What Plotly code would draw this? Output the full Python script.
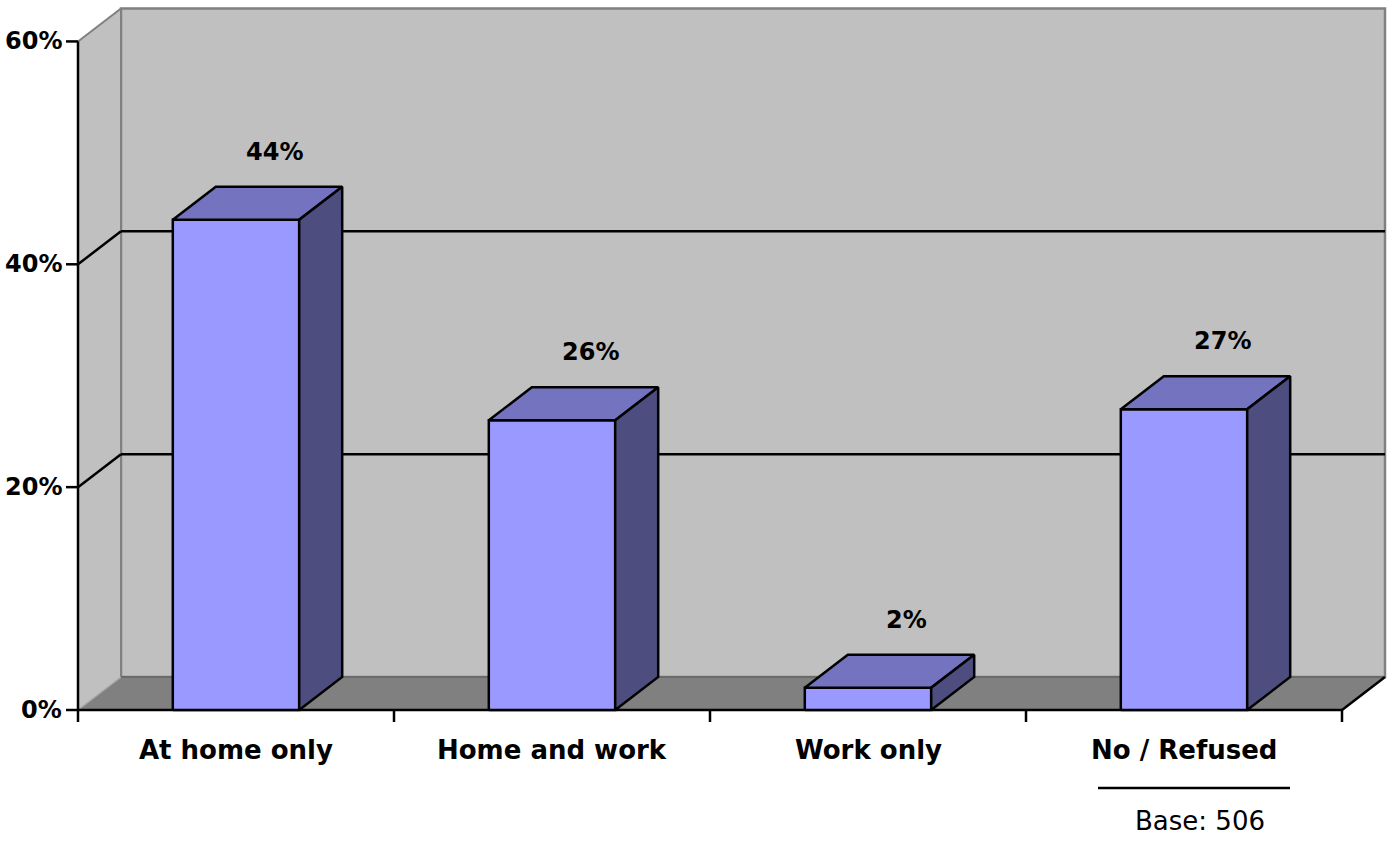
import plotly.graph_objects as go

# ---- data ----
categories = ["At home only", "Home and work", "Work only", "No / Refused"]
values = [44, 26, 2, 27]
y_ticks = [0, 20, 40, 60]
y_tick_labels = ["0%", "20%", "40%", "60%"]
base_note = "Base: 506"

# ---- layout constants (pixels) ----
W, H = 1394, 859
LEFT_PX, BASE_PX = 78, 710          # front-left corner of the plot floor
PX_PER_CAT = 316                    # width of one category slot
PX_PER_PCT = 702 / 63.0             # vertical scale
DEPTH_X_PX, DEPTH_Y_PX = 43, 33     # 3-D depth offset

DX = DEPTH_X_PX / PX_PER_CAT
DY = DEPTH_Y_PX / PX_PER_PCT
YMAX = 60
NCAT = len(categories)
BAR_HALF = 0.2                      # half width of bar front face (category units)

FRONT = "#9999FF"
TOP = "#7373BF"
SIDE = "#4D4D80"
WALL = "#C0C0C0"
FLOOR = "#808080"

FONT = "DejaVu Sans"

fig = go.Figure()
shapes = []


def poly(pts):
    return "M " + " L ".join(f"{x},{y}" for x, y in pts) + " Z"


def seg(x0, y0, x1, y1, color="black", width=2):
    return dict(type="line", xref="x", yref="y", x0=x0, y0=y0, x1=x1, y1=y1,
                line=dict(color=color, width=width), layer="below")


# back wall
shapes.append(dict(type="path", xref="x", yref="y", layer="below",
                   path=poly([(DX, DY), (NCAT + DX, DY), (NCAT + DX, YMAX + DY), (DX, YMAX + DY)]),
                   fillcolor=WALL, line=dict(color=FLOOR, width=2.5)))
# side wall
shapes.append(dict(type="path", xref="x", yref="y", layer="below",
                   path=poly([(0, 0), (DX, DY), (DX, YMAX + DY), (0, YMAX)]),
                   fillcolor=WALL, line=dict(width=0)))
shapes.append(seg(0, YMAX, DX, YMAX + DY, FLOOR, 2))
shapes.append(seg(DX, DY, DX, YMAX + DY, FLOOR, 2))
# floor
shapes.append(dict(type="path", xref="x", yref="y", layer="below",
                   path=poly([(0, 0), (NCAT, 0), (NCAT + DX, DY), (DX, DY)]),
                   fillcolor=FLOOR, line=dict(width=0)))
shapes.append(seg(DX, DY, NCAT + DX, DY, "#6A6A6A", 2))
shapes.append(seg(0, 0, DX, DY, "#A8A8A8", 1.5))
shapes.append(seg(NCAT, 0, NCAT + DX, DY, "black", 2.5))

# gridlines on side and back walls
for g in y_ticks[1:-1]:
    shapes.append(seg(0, g, DX, g + DY, "black", 2.5))
    shapes.append(seg(DX, g + DY, NCAT + DX, g + DY, "black", 2.5))

# value axis line and ticks
shapes.append(seg(0, 0, 0, YMAX, "black", 2.5))
tick_x = 12 / PX_PER_CAT
for g in y_ticks:
    shapes.append(seg(-tick_x, g, 0, g, "black", 2.5))

# category axis line and ticks
shapes.append(seg(0, 0, NCAT, 0, "black", 2.5))
tick_y = 12 / PX_PER_PCT
for i in range(NCAT + 1):
    shapes.append(seg(i, 0, i, -tick_y, "black", 2.5))

# bars: front, top and side faces
for i, v in enumerate(values):
    x0 = i + 0.5 - BAR_HALF
    x1 = i + 0.5 + BAR_HALF
    faces = [
        ([(x0, 0), (x1, 0), (x1, v), (x0, v)], FRONT),
        ([(x0, v), (x1, v), (x1 + DX, v + DY), (x0 + DX, v + DY)], TOP),
        ([(x1, 0), (x1 + DX, DY), (x1 + DX, v + DY), (x1, v)], SIDE),
    ]
    for pts, col in faces:
        xs = [p[0] for p in pts] + [pts[0][0]]
        ys = [p[1] for p in pts] + [pts[0][1]]
        fig.add_trace(go.Scatter(x=xs, y=ys, mode="lines", fill="toself",
                                 fillcolor=col, line=dict(color="black", width=2.5),
                                 hoverinfo="skip", showlegend=False))

annotations = []
# value labels
for i, v in enumerate(values):
    annotations.append(dict(x=i + 0.5 + 38 / PX_PER_CAT, y=v + DY, xref="x", yref="y",
                            text=f"<b>{v}%</b>", showarrow=False, yshift=35,
                            xanchor="center", yanchor="middle",
                            font=dict(family=FONT, size=24, color="black")))
# value axis labels
for g, lab in zip(y_ticks, y_tick_labels):
    annotations.append(dict(x=0, y=g, xref="x", yref="y", text=f"<b>{lab}</b>",
                            showarrow=False, xanchor="right", yanchor="middle",
                            xshift=-14, font=dict(family=FONT, size=24, color="black")))
# category labels
for i, c in enumerate(categories):
    annotations.append(dict(x=i + 0.5, y=0, xref="x", yref="y", text=f"<b>{c}</b>",
                            showarrow=False, xanchor="center", yanchor="middle",
                            yshift=-40, font=dict(family=FONT, size=26, color="black")))

# base note with rule above it
note_x = NCAT - 0.5 + 10 / PX_PER_CAT
shapes.append(dict(type="line", xref="x", yref="y",
                   x0=note_x - 96 / PX_PER_CAT, x1=note_x + 96 / PX_PER_CAT,
                   y0=-78 / PX_PER_PCT, y1=-78 / PX_PER_PCT,
                   line=dict(color="black", width=2.5)))
annotations.append(dict(x=note_x + 6 / PX_PER_CAT, y=0, xref="x", yref="y", text=base_note,
                        showarrow=False, xanchor="center", yanchor="middle", yshift=-111,
                        font=dict(family=FONT, size=26, color="black")))

fig.update_layout(
    width=W, height=H,
    margin=dict(l=0, r=0, t=0, b=0),
    paper_bgcolor="white", plot_bgcolor="white",
    xaxis=dict(range=[-LEFT_PX / PX_PER_CAT, (W - LEFT_PX) / PX_PER_CAT], visible=False, fixedrange=True),
    yaxis=dict(range=[-(H - BASE_PX) / PX_PER_PCT, BASE_PX / PX_PER_PCT], visible=False, fixedrange=True),
    shapes=shapes,
    annotations=annotations,
    showlegend=False,
)

fig.write_html("out.html")
